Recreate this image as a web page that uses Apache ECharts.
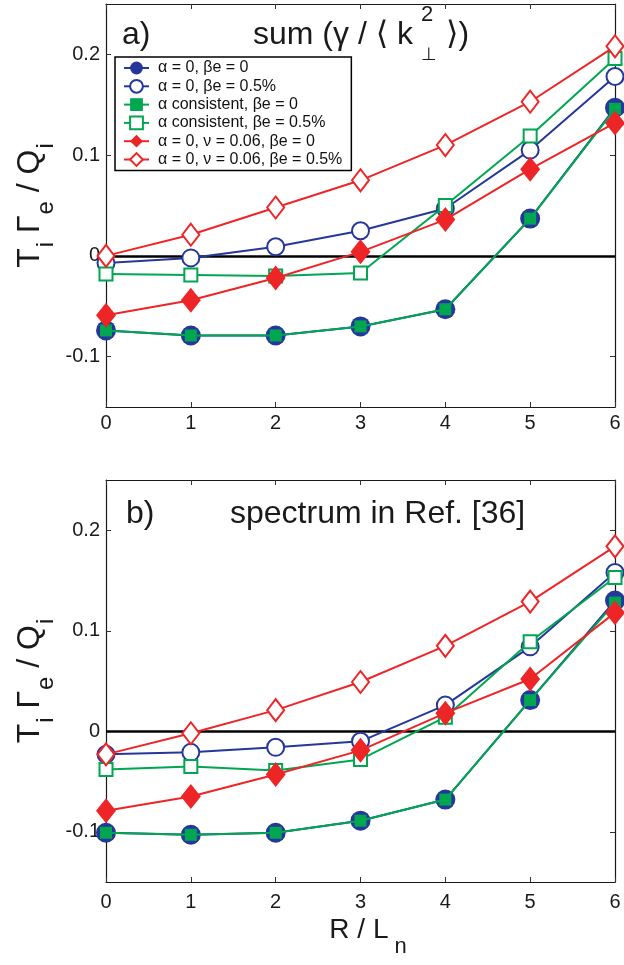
<!DOCTYPE html>
<html><head><meta charset="utf-8">
<script src="https://cdn.jsdelivr.net/npm/echarts@6/dist/echarts.min.js"></script>
<style>html,body{margin:0;padding:0;background:#fff}#c{width:624px;height:965px}</style>
</head><body><div id="c"></div>
<script>
// ---------- data ----------
const xValues = [0, 1, 2, 3, 4, 5, 6];
const xTicks = [0, 1, 2, 3, 4, 5, 6];
const yTicks = [-0.1, 0, 0.1, 0.2];
const seriesNames = [
  'α = 0, βe = 0',
  'α = 0, βe = 0.5%',
  'α consistent, βe = 0',
  'α consistent, βe = 0.5%',
  'α = 0, ν = 0.06, βe = 0',
  'α = 0, ν = 0.06, βe = 0.5%'
];
// panel a) sum (gamma / <k_perp^2>)
const a_alpha0_be0   = [-0.074, -0.079, -0.079, -0.070, -0.053, 0.037, 0.147];
const a_alpha0_be05  = [-0.007, -0.002, 0.009, 0.025, 0.047, 0.105, 0.178];
const a_cons_be0     = [-0.074, -0.079, -0.079, -0.070, -0.053, 0.037, 0.146];
const a_cons_be05    = [-0.018, -0.019, -0.020, -0.017, 0.050, 0.119, 0.196];
const a_nu_be0       = [-0.059, -0.044, -0.022, 0.004, 0.036, 0.086, 0.132];
const a_nu_be05      = [0.000, 0.021, 0.048, 0.075, 0.110, 0.153, 0.208];
// panel b) spectrum in Ref. [36]
const b_alpha0_be0   = [-0.101, -0.103, -0.101, -0.089, -0.068, 0.031, 0.130];
const b_alpha0_be05  = [-0.023, -0.021, -0.016, -0.010, 0.026, 0.084, 0.158];
const b_cons_be0     = [-0.101, -0.103, -0.101, -0.089, -0.068, 0.031, 0.128];
const b_cons_be05    = [-0.038, -0.035, -0.039, -0.028, 0.014, 0.089, 0.153];
const b_nu_be0       = [-0.079, -0.065, -0.043, -0.019, 0.018, 0.052, 0.118];
const b_nu_be05      = [-0.023, -0.002, 0.021, 0.049, 0.085, 0.129, 0.184];

// ---------- styles ----------
const FONT = '"Liberation Sans", Arial, "DejaVu Sans", sans-serif';
const BLUE = '#25379a', GREEN = '#00a650', RED = '#ee2527', INK = '#1a1a1a';
const styles = [
  { color: BLUE,  symbol: 'circle',       size: 20 },
  { color: BLUE,  symbol: 'emptyCircle',  size: 17 },
  { color: GREEN, symbol: 'rect',         size: 12 },
  { color: GREEN, symbol: 'emptyRect',    size: 13 },
  { color: RED,   symbol: 'diamond',      size: [20, 25] },
  { color: RED,   symbol: 'emptyDiamond', size: [17, 22] }
];
const panelA = [a_alpha0_be0, a_alpha0_be05, a_cons_be0, a_cons_be05, a_nu_be0, a_nu_be05];
const panelB = [b_alpha0_be0, b_alpha0_be05, b_cons_be0, b_cons_be05, b_nu_be0, b_nu_be05];

function makeSeries(vals, i, xi, yi) {
  const st = styles[i];
  const empty = st.symbol.indexOf('empty') === 0;
  const s = {
    name: seriesNames[i], type: 'line', xAxisIndex: xi, yAxisIndex: yi,
    data: xValues.map((x, k) => [x, vals[k]]),
    symbol: st.symbol, symbolSize: st.size, showSymbol: true, clip: false,
    lineStyle: { color: st.color, width: 2 },
    itemStyle: { color: st.color, borderColor: st.color, borderWidth: empty ? 2 : 0 },
    emphasis: { disabled: true }, silent: true, z: 3 + i
  };
  if (i === 0) {
    s.markLine = { silent: true, symbol: ['none', 'none'], label: { show: false },
      lineStyle: { color: '#000', width: 2.5, type: 'solid' }, data: [{ yAxis: 0 }], z: 2 };
  }
  return s;
}

const axisLine = { show: true, onZero: false, lineStyle: { color: INK, width: 1.2 } };
const tick = { show: true, inside: true, length: 5, lineStyle: { color: '#333', width: 1 } };
function xAx(gi, top, margin) {
  return { type: 'value', gridIndex: gi, min: 0, max: 6, interval: 1, position: top ? 'top' : 'bottom',
    axisLine, axisTick: tick, splitLine: { show: false },
    axisLabel: { show: !top, fontSize: 20, fontFamily: FONT, color: INK, margin: margin } };
}
function yAx(gi, right) {
  return { type: 'value', gridIndex: gi, min: -0.15, max: 0.25, position: right ? 'right' : 'left',
    axisLine, splitLine: { show: false },
    axisTick: Object.assign({}, tick, { customValues: yTicks }),
    axisLabel: { show: !right, customValues: yTicks, fontSize: 20, fontFamily: FONT, color: INK, margin: 6,
      formatter: v => (Math.abs(v) < 1e-9 ? '0' : String(+v.toFixed(2))) } };
}

const yTitleRich = {
  m: { fontSize: 32, lineHeight: 32, fontFamily: FONT, fill: INK, verticalAlign: 'top' },
  s: { fontSize: 24, lineHeight: 24, fontFamily: FONT, fill: INK, verticalAlign: 'top', padding: [20, 0, 0, 1] }
};
const xTitleRich = {
  m: { fontSize: 28, lineHeight: 28, fontFamily: FONT, fill: INK, verticalAlign: 'top' },
  s: { fontSize: 22, lineHeight: 22, fontFamily: FONT, fill: INK, verticalAlign: 'top', padding: [20, 0, 0, 6] }
};
function txt(x, y, text, size, extra) {
  return { type: 'text', x, y, silent: true, z: 100,
    style: Object.assign({ text, fontSize: size, fontFamily: FONT, fill: INK, align: 'left', verticalAlign: 'middle' }, extra || {}) };
}

const option = {
  animation: false,
  backgroundColor: '#fff',
  grid: [
    { left: 106, top: 4, width: 509, height: 403 },
    { left: 106, top: 480, width: 509, height: 402 }
  ],
  xAxis: [xAx(0, false, 6), xAx(0, true, 6), xAx(1, false, 10), xAx(1, true, 6)],
  yAxis: [yAx(0, false), yAx(0, true), yAx(1, false), yAx(1, true)],
  legend: {
    data: seriesNames, left: 115, top: 57, orient: 'vertical',
    itemWidth: 25, itemHeight: 16, itemGap: 2.3, padding: [3, 9, 3, 8],
    borderColor: '#000', borderWidth: 1.5, backgroundColor: '#fff',
    textStyle: { fontSize: 16, lineHeight: 16, fontFamily: FONT, color: '#111', padding: [0, 0, 0, 4] },
    selectedMode: false, z: 50
  },
  series: [].concat(
    panelA.map((v, i) => makeSeries(v, i, 0, 0)),
    panelB.map((v, i) => makeSeries(v, i, 2, 2))
  ),
  graphic: [
    // panel a title
    txt(122, 35, 'a)', 32),
    txt(253, 35, 'sum (γ / ⟨ k', 32),
    txt(421, 15, '2', 22),
    txt(421, 55, '⊥', 18),
    txt(446, 35, '⟩)', 32),
    // panel b title
    txt(126, 514, 'b)', 32),
    txt(230, 514, 'spectrum in Ref. [36]', 32),
    // y axis titles
    { type: 'text', x: 14, y: 205.5, rotation: Math.PI / 2, silent: true, z: 100,
      style: { text: '{m|T}{s|i}{m| Γ}{s|e}{m| / Q}{s|i}', align: 'center', verticalAlign: 'top', rich: yTitleRich } },
    { type: 'text', x: 14, y: 681, rotation: Math.PI / 2, silent: true, z: 100,
      style: { text: '{m|T}{s|i}{m| Γ}{s|e}{m| / Q}{s|i}', align: 'center', verticalAlign: 'top', rich: yTitleRich } },
    // x axis title
    { type: 'text', x: 368, y: 916, silent: true, z: 100,
      style: { text: '{m|R / L}{s|n}', align: 'center', verticalAlign: 'top', rich: xTitleRich } }
  ]
};
const chart = echarts.init(document.getElementById('c'), null, { renderer: 'canvas' });
chart.setOption(option);
</script>
</body></html>
